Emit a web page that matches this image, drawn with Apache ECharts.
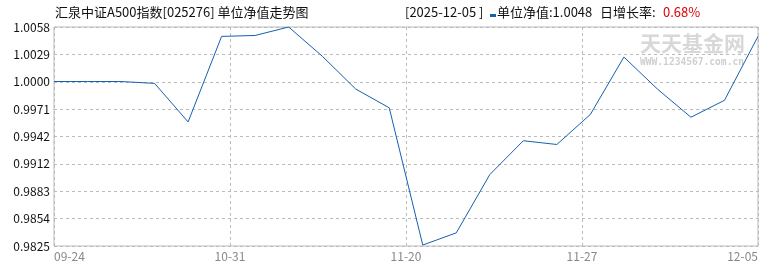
<!DOCTYPE html>
<html>
<head>
<meta charset="utf-8">
<script src="https://cdn.jsdelivr.net/npm/echarts@6/dist/echarts.min.js"></script>
<style>html,body{margin:0;padding:0;background:#fff}#c{width:770px;height:270px}</style>
</head>
<body>
<div id="c"></div>
<script>
const dates = ['09-24','09-26','10-10','10-17','10-24','10-31','11-07','11-14','11-18','11-19','11-20','11-21','11-24','11-25','11-26','11-27','11-28','12-01','12-02','12-03','12-04','12-05'];
const navValues = [1.0000,1.0000,1.0000,0.9998,0.9957,1.0048,1.0049,1.0058,1.0027,0.9992,0.9972,0.9826,0.9839,0.9901,0.9937,0.9933,0.9965,1.0026,0.9992,0.9962,0.9980,1.0048];
const xTickLabels = ['09-24','10-31','11-20','11-27','12-05'];
const yTickLabels = ['0.9825','0.9854','0.9883','0.9912','0.9942','0.9971','1.0000','1.0029','1.0058'];
const latestDate = '2025-12-05';
const fundTitle = '汇泉中证A500指数[025276] 单位净值走势图';

const yMin = 0.9825, yMax = 1.0058;
const yInterval = (yMax - yMin) / (yTickLabels.length - 1);
const xMax = dates.length - 1;
const xInterval = xMax / (xTickLabels.length - 1);

const lastNav = navValues[navValues.length - 1];
const prevNav = navValues[navValues.length - 2];
const growth = ((lastNav / prevNav - 1) * 100).toFixed(2) + '%';

const FONT = '"Noto Sans CJK SC", sans-serif';
const LINE_COLOR = '#1560b0';
const chart = echarts.init(document.getElementById('c'), null, {renderer: 'canvas'});
const hdr = (text, left, color) => ({
  type: 'text', left: left, top: 6, z: 10,
  style: {text: text, fontSize: 13, fill: color || '#111', fontFamily: FONT}
});
chart.setOption({
  animation: false,
  backgroundColor: '#fff',
  textStyle: {fontFamily: FONT},
  graphic: [
    hdr(fundTitle, 55),
    hdr('[' + latestDate + ' ]', 405),
    {type: 'rect', left: 490, top: 14, z: 10, shape: {width: 6, height: 3}, style: {fill: LINE_COLOR}},
    hdr('单位净值:' + lastNav.toFixed(4), 497),
    hdr('日增长率:', 600),
    hdr(growth, 663, '#e00000'),
    {
      type: 'text', left: 640, top: 33, z: 0,
      style: {text: '天天基金网', fontSize: 21, fontWeight: 'bold', fill: '#d8d8d8', fontFamily: FONT}
    }, {
      type: 'text', left: 640, top: 57, z: 0,
      style: {text: 'WWW.1234567.com.cn', fontSize: 9.6, fontWeight: 'bold', fill: '#cfcfcf', fontFamily: '"DejaVu Sans Mono", monospace'}
    }
  ],
  grid: {left: 54, right: 12, top: 27, bottom: 24, show: true, borderColor: '#bbb', borderWidth: 1, backgroundColor: 'transparent'},
  xAxis: {
    type: 'value', min: 0, max: xMax, interval: xInterval,
    axisLine: {show: false}, axisTick: {show: false},
    splitLine: {show: true, lineStyle: {color: '#bbb', type: [3, 3], width: 1}},
    axisLabel: {
      color: '#888', fontSize: 12, margin: 4, fontFamily: FONT,
      alignMinLabel: 'left', alignMaxLabel: 'right',
      formatter: v => xTickLabels[Math.round(v / xInterval)] || ''
    }
  },
  yAxis: {
    type: 'value', min: yMin, max: yMax, interval: yInterval,
    axisLine: {show: false}, axisTick: {show: false},
    splitLine: {show: true, lineStyle: {color: '#bbb', type: [3, 3], width: 1}},
    axisLabel: {
      color: '#111', fontSize: 12, margin: 4, fontFamily: FONT,
      formatter: v => yTickLabels[Math.round((v - yMin) / yInterval)] || ''
    }
  },
  series: [{
    type: 'line', name: '单位净值',
    data: navValues.map((v, i) => [i, v]),
    showSymbol: false, symbol: 'none',
    lineStyle: {color: LINE_COLOR, width: 1},
    z: 5
  }]
});
</script>
</body>
</html>
